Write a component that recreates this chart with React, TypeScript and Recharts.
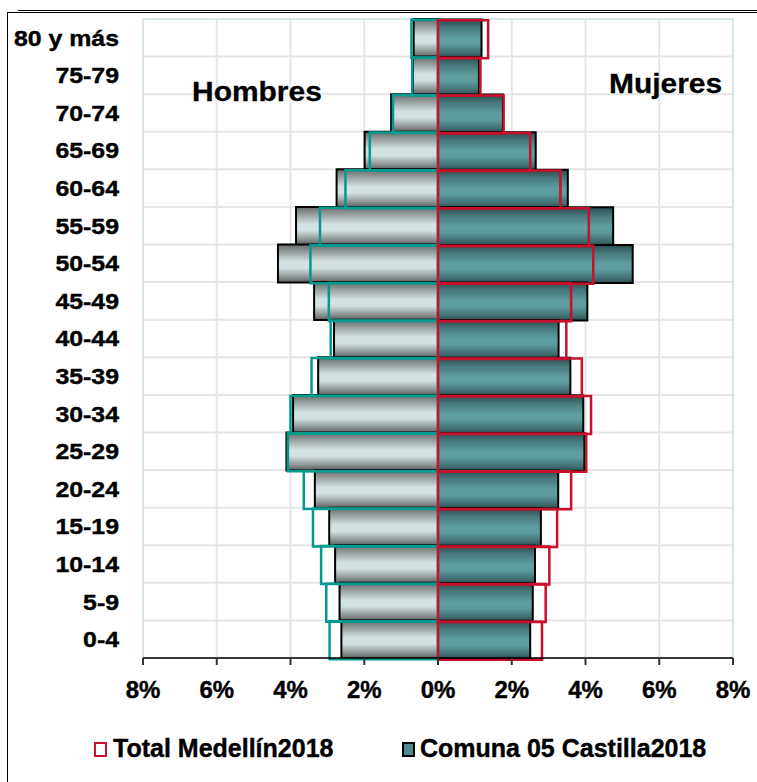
import React from 'react';
import {
  BarChart,
  Bar,
  XAxis,
  YAxis,
  CartesianGrid,
  ReferenceArea,
} from 'recharts';

// Grupos de edad, de arriba hacia abajo
const ages = [
  '80 y más', '75-79', '70-74', '65-69', '60-64', '55-59', '50-54', '45-49', '40-44',
  '35-39', '30-34', '25-29', '20-24', '15-19', '10-14', '5-9', '0-4',
];

// % de la población
const hombresComuna = [0.66, 0.68, 1.27, 1.99, 2.75, 3.85, 4.34, 3.36, 2.82, 3.25, 3.93, 4.11, 3.34, 2.95, 2.79, 2.67, 2.62];
const hombresMedellin = [0.72, 0.7, 1.22, 1.85, 2.51, 3.2, 3.46, 2.96, 2.91, 3.43, 4.0, 4.07, 3.64, 3.39, 3.17, 3.03, 2.94];
const mujeresComuna = [1.18, 1.11, 1.76, 2.65, 3.52, 4.75, 5.28, 4.05, 3.27, 3.59, 3.94, 3.97, 3.26, 2.79, 2.63, 2.57, 2.5];
const mujeresMedellin = [1.36, 1.15, 1.78, 2.5, 3.32, 4.09, 4.21, 3.61, 3.48, 3.9, 4.15, 4.02, 3.61, 3.23, 3.02, 2.92, 2.82];

const xTicks = [-8, -6, -4, -2, 0, 2, 4, 6, 8];

const FONT = '"Liberation Sans", Arial, sans-serif';

const data = ages.map((age, i) => ({
  age,
  hc: -hombresComuna[i],
  mc: mujeresComuna[i],
  hm: -hombresMedellin[i],
  mm: mujeresMedellin[i],
}));

const YTick = ({ x, y, payload }: any) => (
  <g transform={`translate(${x},${y})`}>
    <text
      transform="scale(1.13,1)"
      textAnchor="end"
      dy="0.36em"
      fontSize={22}
      fontWeight="bold"
      fontFamily={FONT}
      fill="#000"
      stroke="#000"
      strokeWidth={0.4}
    >
      {payload.value}
    </text>
  </g>
);

const XTick = ({ x, y, payload }: any) => (
  <g transform={`translate(${x},${y})`}>
    <text
      textAnchor="middle"
      y={31}
      fontSize={24}
      fontWeight="bold"
      fontFamily={FONT}
      fill="#000"
      stroke="#000"
      strokeWidth={0.4}
    >
      {Math.abs(payload.value)}%
    </text>
  </g>
);

const App = () => {
  return (
    <div style={{ position: 'absolute', left: 0, top: 0, width: 757, height: 782, background: '#fff' }}>
      <BarChart
        width={757}
        height={782}
        data={data}
        layout="vertical"
        barCategoryGap={0}
        barGap="-100%"
        margin={{ top: 19, right: 24, left: 0, bottom: 74 }}
      >
        <defs>
          <linearGradient id="gradHombres" x1="0" y1="0" x2="0" y2="1">
            <stop offset="0%" stopColor="#666868" />
            <stop offset="18%" stopColor="#939a9a" />
            <stop offset="45%" stopColor="#d2e1e1" />
            <stop offset="62%" stopColor="#d2e1e1" />
            <stop offset="85%" stopColor="#8f9696" />
            <stop offset="100%" stopColor="#5a5c5c" />
          </linearGradient>
          <linearGradient id="gradMujeres" x1="0" y1="0" x2="0" y2="1">
            <stop offset="0%" stopColor="#2b4c4e" />
            <stop offset="22%" stopColor="#48797b" />
            <stop offset="50%" stopColor="#5f9ea0" />
            <stop offset="65%" stopColor="#5d9b9d" />
            <stop offset="88%" stopColor="#416f71" />
            <stop offset="100%" stopColor="#2a4a4c" />
          </linearGradient>
        </defs>
        <CartesianGrid
          stroke="#e6e6e6"
          strokeWidth={2}
          horizontalCoordinatesGenerator={({ offset }: any) =>
            ages.map((_, i) => offset.top + (i * offset.height) / ages.length).concat(offset.top + offset.height)
          }
        />
        <ReferenceArea x1={-8} x2={8} fill="none" stroke="#d6e5e5" strokeWidth={2} />
        <XAxis
          type="number"
          domain={[-8, 8]}
          ticks={xTicks}
          allowDataOverflow
          height={50}
          stroke="#000"
          strokeWidth={1.5}
          tickSize={7}
          tickLine={{ stroke: '#333', strokeWidth: 2 }}
          tick={<XTick />}
        />
        <YAxis
          type="category"
          dataKey="age"
          width={143}
          axisLine={false}
          tickLine={false}
          tickSize={6}
          tickMargin={18}
          interval={0}
          tick={<YTick />}
        />
        <Bar dataKey="hc" fill="url(#gradHombres)" stroke="#000" strokeWidth={2} isAnimationActive={false} />
        <Bar dataKey="mc" fill="url(#gradMujeres)" stroke="#000" strokeWidth={2} isAnimationActive={false} />
        <Bar dataKey="hm" fill="none" stroke="#009b8f" strokeWidth={2.5} isAnimationActive={false} />
        <Bar dataKey="mm" fill="none" stroke="#c8102e" strokeWidth={2.5} isAnimationActive={false} />
      </BarChart>
      <svg
        width={757}
        height={782}
        style={{ position: 'absolute', left: 0, top: 0, pointerEvents: 'none' }}
        fontFamily={FONT}
        fontWeight="bold"
      >
        {/* marco */}
        <line x1={18} y1={10.5} x2={757} y2={10.5} stroke="#000" strokeWidth={1} />
        <line x1={7} y1={12.5} x2={757} y2={12.5} stroke="#000" strokeWidth={1} />
        <line x1={7.5} y1={12} x2={7.5} y2={782} stroke="#000" strokeWidth={1} />
        <text transform="translate(192,101) scale(1.07,1)" fontSize={28} fill="#000" stroke="#000" strokeWidth={0.3}>Hombres</text>
        <text transform="translate(609,93) scale(1.07,1)" fontSize={28} fill="#000" stroke="#000" strokeWidth={0.3}>Mujeres</text>
        {/* leyenda */}
        <rect x={95} y={743} width={11} height={13} fill="#fff" stroke="#c8102e" strokeWidth={2} />
        <text x={113} y={757} fontSize={25} fill="#000" stroke="#000" strokeWidth={0.4}>Total Medellín2018</text>
        <rect x={403} y={743} width={11} height={13} fill="#4f8a8c" stroke="#000" strokeWidth={2} />
        <text x={420} y={757} fontSize={25} fill="#000" stroke="#000" strokeWidth={0.4}>Comuna 05 Castilla2018</text>
      </svg>
    </div>
  );
};

export default App;
